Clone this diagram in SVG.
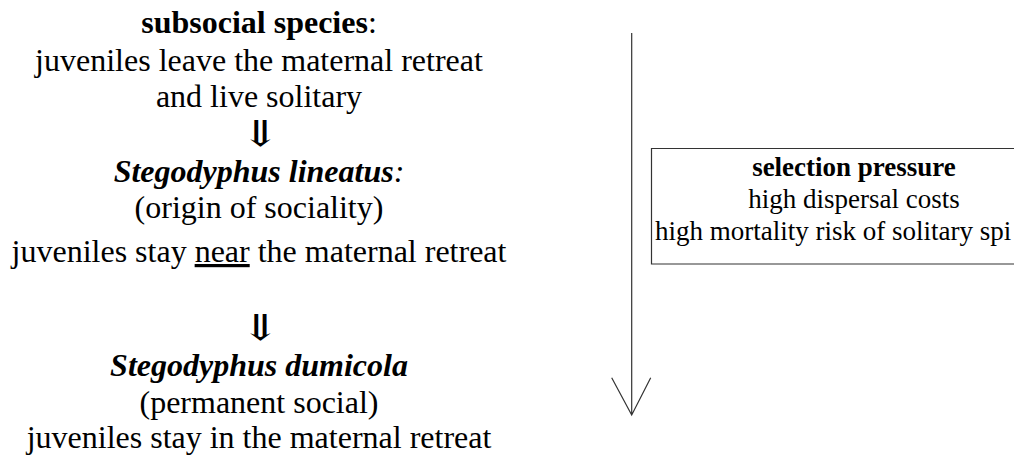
<svg xmlns="http://www.w3.org/2000/svg" width="1014" height="458" viewBox="0 0 1014 458">
<style>
text{font-family:"Liberation Serif","Times New Roman",serif;fill:#000;text-anchor:middle}
.l{font-size:32px}
.b{font-weight:bold}
.bi{font-weight:bold;font-style:italic}
.s{font-size:27px}
.arr{font-family:"DejaVu Serif","Liberation Serif",serif;font-size:36px}
.ln{stroke:#333;stroke-width:1.2;fill:none}
</style>
<rect width="1014" height="458" fill="#fff"/>
<g id="subsocial">
<text class="l b" x="259" y="33">subsocial species<tspan font-weight="normal">:</tspan></text>
<text class="l" x="259" y="71">juveniles leave the maternal retreat</text>
<text class="l" x="259" y="107">and live solitary</text>
</g>
<g id="lineatus">
<text class="l bi" x="259" y="182">Stegodyphus lineatus<tspan font-weight="normal">:</tspan></text>
<text class="l" x="259" y="218">(origin of sociality)</text>
<text class="l" x="259" y="262">juveniles stay <tspan text-decoration="underline">near</tspan> the maternal retreat</text>
</g>
<g id="dumicola">
<text class="l bi" x="259" y="376">Stegodyphus dumicola</text>
<text class="l" x="259" y="413">(permanent social)</text>
<text class="l" x="259" y="448">juveniles stay in the maternal retreat</text>
</g>
<g id="pressure">
<path class="ln" d="M1014 148.5H651.5V264H1014"/>
<text class="s b" x="854" y="176">selection pressure</text>
<text class="s" x="854" y="208">high dispersal costs</text>
<text class="s" x="655" y="240" style="text-anchor:start">high mortality risk of solitary spi</text>
</g>
<g id="connectors">
<text class="arr" transform="translate(260 146) scale(1.35 1)" x="0" y="0">⇓</text>
<text class="arr" transform="translate(260 340) scale(1.35 1)" x="0" y="0">⇓</text>
<path class="ln" d="M631.7 33V415M611.7 377.7L631.7 415L650.7 377.7"/>
</g>
</svg>
